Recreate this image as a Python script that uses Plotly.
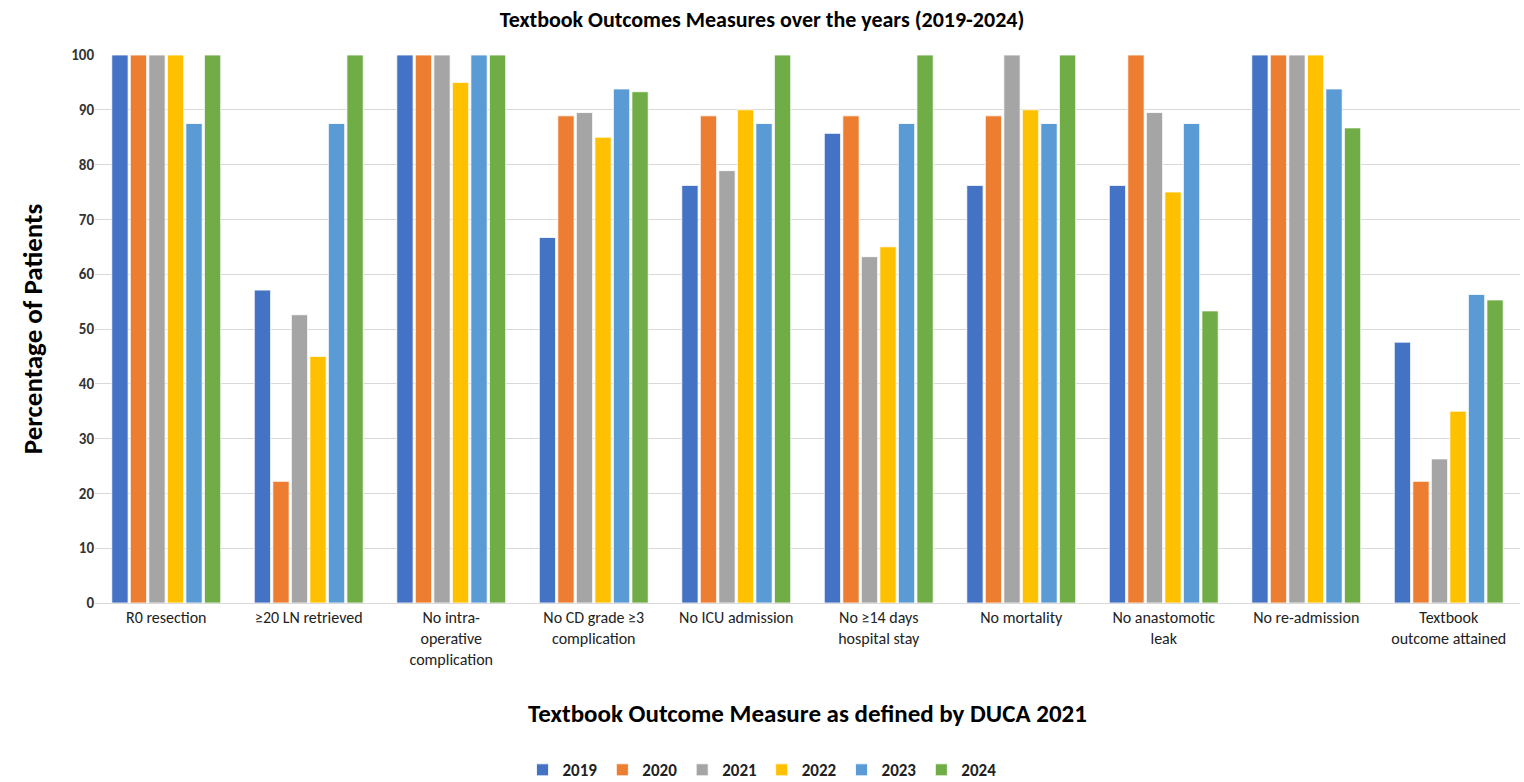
import plotly.graph_objects as go

categories = ["R0 resection", "≥20 LN retrieved", "No intra-<br>operative<br>complication",
              "No CD grade ≥3<br>complication", "No ICU admission", "No ≥14 days<br>hospital stay",
              "No mortality", "No anastomotic<br>leak", "No re-admission", "Textbook<br>outcome attained"]
years = ["2019", "2020", "2021", "2022", "2023", "2024"]
v2019 = [100, 57.1, 100, 66.7, 76.2, 85.7, 76.2, 76.2, 100, 47.6]
v2020 = [100, 22.2, 100, 88.9, 88.9, 88.9, 88.9, 100, 100, 22.2]
v2021 = [100, 52.6, 100, 89.5, 78.9, 63.2, 100, 89.5, 100, 26.3]
v2022 = [100, 45.0, 95, 85.0, 90.0, 65.0, 90.0, 75.0, 100, 35.0]
v2023 = [87.5, 87.5, 100, 93.8, 87.5, 87.5, 87.5, 87.5, 93.8, 56.3]
v2024 = [100, 100, 100, 93.3, 100, 100, 100, 53.3, 86.7, 55.3]
series = [v2019, v2020, v2021, v2022, v2023, v2024]
colors = ["#4472C4", "#ED7D31", "#A5A5A5", "#FFC000", "#5B9BD5", "#70AD47"]

font = "Carlito, Liberation Sans Narrow, Lato, sans-serif"
fig = go.Figure()
for y, vals, c in zip(years, series, colors):
    fig.add_trace(go.Bar(x=categories, y=vals, name=y, marker=dict(color=c, line=dict(color="white", width=0.8))))

fig.update_layout(
    width=1524, height=782,
    margin=dict(l=95, r=4, t=55, b=179, autoexpand=False),
    paper_bgcolor="white", plot_bgcolor="white",
    barmode="group", bargap=0.22, bargroupgap=0.12,
    title=dict(text="<b>Textbook Outcomes Measures over the years (2019-2024)</b>",
               x=0.5, xanchor="center", y=0.985, yanchor="top",
               font=dict(family=font, size=22, color="black")),
    font=dict(family=font, color="#222"),
    legend=dict(orientation="h", x=0.5, xanchor="center", xref="container",
                y=0.015, yanchor="middle", yref="container",
                font=dict(family=font, size=17, color="#222", weight="bold"), traceorder="normal",
                itemwidth=30),
)
fig.update_yaxes(range=[0, 100], dtick=10, showgrid=True, gridcolor="#D9D9D9", gridwidth=1,
                 zeroline=False, showline=False, ticks="", automargin=False,
                 tickfont=dict(family=font, size=15, color="#333", weight="bold"), ticklen=0,
                 title=dict(text="<b>Percentage of Patients</b>", font=dict(family=font, size=27, color="black"), standoff=20))
fig.update_xaxes(showline=True, linecolor="#D9D9D9", linewidth=1, ticks="", automargin=False,
                 tickangle=0, tickfont=dict(family=font, size=16, color="#222"),
                 title=dict(text="<b>Textbook Outcome Measure as defined by DUCA 2021</b>",
                            font=dict(family=font, size=25, color="black"), standoff=36))
fig.write_html("out.html")
